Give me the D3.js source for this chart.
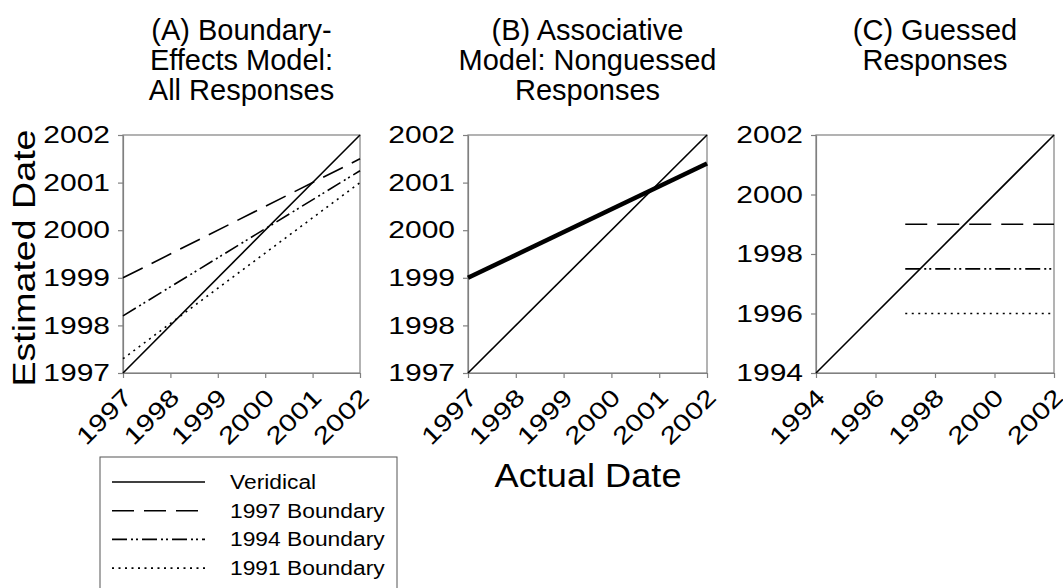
<!DOCTYPE html>
<html>
<head>
<meta charset="utf-8">
<script src="https://cdnjs.cloudflare.com/ajax/libs/d3/7.8.5/d3.min.js"></script>
<style>
  body { margin: 0; background: #fff; overflow: hidden; }
  svg { font-family: "Liberation Sans", Arial, sans-serif; }
</style>
</head>
<body>
<div id="chart"></div>
<script>
// values
var ticksAB = [1997, 1998, 1999, 2000, 2001, 2002];
var ticksC = [1994, 1996, 1998, 2000, 2002];
var spanAB = [1997, 2002];
var spanC = [1994, 2002];

var veridicalAB = [1997, 2002];
var boundary1997A = [1999, 2001.5];
var boundary1994A = [1998.2, 2001.25];
var boundary1991A = [1997.3, 2001.0];
var associativeB = [1999, 2001.4];

var veridicalC = [1994, 2002];
var guessedX = [1997, 2002];
var guessed1997 = [1999, 1999];
var guessed1994 = [1997.5, 1997.5];
var guessed1991 = [1996, 1996];

var titleA = ["(A) Boundary-", "Effects Model:", "All Responses"];
var titleB = ["(B) Associative", "Model: Nonguessed", "Responses"];
var titleC = ["(C) Guessed", "Responses"];

var legendLabels = ["Veridical", "1997 Boundary", "1994 Boundary", "1991 Boundary"];

var styles = {
    veridical: {dash: null, width: 1.6},
    b1997: {dash: "22,10", width: 1.6},
    b1994: {dash: "15,4,2,3,2,4", width: 1.6},
    b1991: {dash: "2,4.5", width: 1.6},
    thick: {dash: null, width: 4.5}
};
var legendStyles = ["veridical", "b1997", "b1994", "b1991"];

var width = 1063, height = 588;
var plotTop = 135, plotBottom = 373;
var gray = "#808080";

var svg = d3.select("#chart")
    .append("svg")
    .attr("width", width)
    .attr("height", height)

// widen text the way the original figure was stretched
function stretch(sel, k) {
    sel.each(function() {
        var w = this.getComputedTextLength();
        d3.select(this).attr("textLength", w * k).attr("lengthAdjust", "spacingAndGlyphs");
    })
}

function panel(left, right, domain, ticks, title, series) {
    var x = d3.scaleLinear().domain(domain).range([left, right]);
    var y = d3.scaleLinear().domain(domain).range([plotBottom, plotTop]);

    var g = svg.append("g")

    g.append("rect")
        .attr("x", left).attr("y", plotTop)
        .attr("width", right - left).attr("height", plotBottom - plotTop)
        .attr("fill", "none").attr("stroke", gray).attr("stroke-width", 1.2)

    var yAxis = g.append("g")
        .attr("transform", "translate(" + left + ",0)")
        .call(d3.axisLeft(y).tickValues(ticks).tickSize(5).tickSizeOuter(0).tickPadding(8).tickFormat(d3.format("d")))
    var xAxis = g.append("g")
        .attr("transform", "translate(0," + plotBottom + ")")
        .call(d3.axisBottom(x).tickValues(ticks).tickSize(5).tickSizeOuter(0).tickFormat(d3.format("d")))

    g.selectAll(".domain").attr("stroke", gray).attr("stroke-width", 1.2)
    g.selectAll(".tick line").attr("stroke", gray).attr("stroke-width", 1.2)
    g.selectAll(".tick text").attr("fill", "#000").attr("font-size", 24).attr("font-family", "Liberation Sans, Arial, sans-serif")

    xAxis.selectAll(".tick text")
        .attr("text-anchor", "end")
        .attr("y", 0).attr("dy", 0)
        .attr("transform", "translate(10,26) rotate(-45)")

    stretch(g.selectAll(".tick text"), 1.25)

    var line = d3.line()
        .x(function(d) { return x(d[0]); })
        .y(function(d) { return y(d[1]); })

    series.forEach(function(s) {
        var st = styles[s.style];
        g.append("path")
            .datum(d3.zip(s.xs, s.ys))
            .attr("d", line)
            .attr("fill", "none")
            .attr("stroke", "#000")
            .attr("stroke-width", st.width)
            .attr("stroke-dasharray", st.dash)
    })

    var cx = (left + right) / 2;
    g.selectAll(".title")
        .data(title).enter().append("text")
        .attr("class", "title")
        .attr("x", cx)
        .attr("y", function(d, i) { return 40 + i * 30; })
        .attr("text-anchor", "middle")
        .attr("font-size", 29)
        .text(function(d) { return d; })
}

panel(123, 360, spanAB, ticksAB, titleA, [
    {xs: spanAB, ys: veridicalAB, style: "veridical"},
    {xs: spanAB, ys: boundary1997A, style: "b1997"},
    {xs: spanAB, ys: boundary1994A, style: "b1994"},
    {xs: spanAB, ys: boundary1991A, style: "b1991"}
])

panel(468, 707, spanAB, ticksAB, titleB, [
    {xs: spanAB, ys: veridicalAB, style: "veridical"},
    {xs: spanAB, ys: associativeB, style: "thick"}
])

panel(816, 1054, spanC, ticksC, titleC, [
    {xs: spanC, ys: veridicalC, style: "veridical"},
    {xs: guessedX, ys: guessed1997, style: "b1997"},
    {xs: guessedX, ys: guessed1994, style: "b1994"},
    {xs: guessedX, ys: guessed1991, style: "b1991"}
])

// axis titles
var yTitle = svg.append("text")
    .attr("transform", "translate(35,258) rotate(-90)")
    .attr("text-anchor", "middle")
    .attr("font-size", 32)
    .text("Estimated Date")
yTitle.attr("textLength", 257).attr("lengthAdjust", "spacingAndGlyphs")

svg.append("text")
    .attr("x", 588).attr("y", 487)
    .attr("text-anchor", "middle")
    .attr("font-size", 34)
    .attr("textLength", 187).attr("lengthAdjust", "spacingAndGlyphs")
    .text("Actual Date")

// legend (box runs past the bottom edge, as in the original crop)
var legend = svg.append("g")
legend.append("rect")
    .attr("x", 100).attr("y", 457)
    .attr("width", 297).attr("height", 145)
    .attr("fill", "none").attr("stroke", "#555").attr("stroke-width", 1)

var rows = legend.selectAll(".row")
    .data(legendLabels).enter().append("g")
    .attr("class", "row")
    .attr("transform", function(d, i) { return "translate(0," + (482 + i * 28.7) + ")"; })

rows.append("line")
    .attr("x1", 112).attr("x2", 205)
    .attr("stroke", "#000")
    .attr("stroke-width", function(d, i) { return styles[legendStyles[i]].width; })
    .attr("stroke-dasharray", function(d, i) { return styles[legendStyles[i]].dash; })

rows.append("text")
    .attr("x", 230).attr("y", 7)
    .attr("font-size", 20)
    .text(function(d) { return d; })

stretch(rows.selectAll("text"), 1.14)
</script>
</body>
</html>
